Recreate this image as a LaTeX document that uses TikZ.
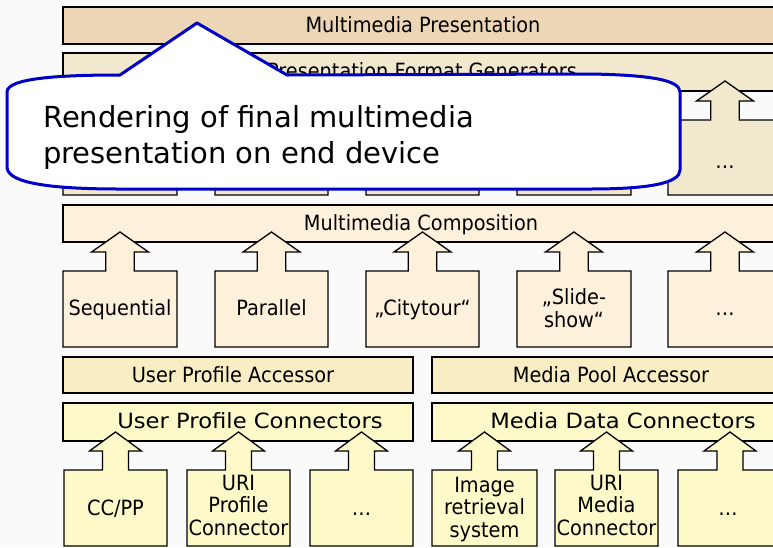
\documentclass[tikz,border=0pt]{standalone}
\usepackage{fontspec}
\setmainfont{DejaVu Sans}
\newfontfamily\tah[FakeStretch=0.92]{DejaVu Sans}
\newfontfamily\verd[FakeStretch=1.08]{DejaVu Sans}
\definecolor{bgc}{HTML}{FAFAFA}
\definecolor{cA}{HTML}{EDD6B6}
\definecolor{cB}{HTML}{F1E8CE}
\definecolor{cC}{HTML}{FDF1DB}
\definecolor{cD}{HTML}{F9EDC4}
\definecolor{cE}{HTML}{FEF9C8}
\definecolor{callblue}{HTML}{0000C8}
\newcommand{\upbox}[9]{%
  \pgfmathsetmacro\ucx{(#1+#2)/2}%
  \draw[layer, fill=#9] (#1,#6) -- (#1,#5) -- (\ucx-#7,#5) -- (\ucx-#7,#4) -- (\ucx-#8,#4) -- (\ucx,#3)
     -- (\ucx+#8,#4) -- (\ucx+#7,#4) -- (\ucx+#7,#5) -- (#2,#5) -- (#2,#6) -- cycle;}
\begin{document}
\begin{tikzpicture}[x=1pt,y=-1pt,
  layer/.style={draw=black, line width=1.3pt, line join=miter},
  lbl/.style={font={\tah\fontsize{21}{22.5}\selectfont}, inner sep=0pt, anchor=base, align=center},
  vlbl/.style={font={\verd\fontsize{21}{22.5}\selectfont}, inner sep=0pt, anchor=base},
  ctext/.style={font={\fontsize{29}{36}\selectfont}, inner sep=0pt, anchor=base west, align=left}]
\useasboundingbox (0,0) rectangle (773,547);
\clip (0,0) rectangle (773,547);
\fill[bgc] (0,0) rectangle (773,547);
% layer bars
\draw[layer, fill=cA] (63,7) rectangle (795,44);
\draw[layer, fill=cB] (63,53) rectangle (795,91);
\draw[layer, fill=cC] (63,205) rectangle (795,242);
\draw[layer, fill=cD] (63,357) rectangle (413,393);
\draw[layer, fill=cD] (432,357) rectangle (795,393);
\draw[layer, fill=cE] (63,403) rectangle (413,441);
\draw[layer, fill=cE] (432,403) rectangle (795,441);
% generator boxes
\foreach \a/\b in {63/177,215/328,366/479,517/631,668/782}
  {\upbox{\a}{\b}{81}{101}{120}{195}{14.25}{28.5}{cB}}
% composition boxes
\foreach \a/\b in {63/177,215/328,366/479,517/631,668/782}
  {\upbox{\a}{\b}{232}{252}{271}{347}{14.25}{28.5}{cC}}
% connector boxes
\foreach \a/\b in {64/167,187/290,310/413,432/537,555/658,678/782}
  {\upbox{\a}{\b}{432}{451}{470}{546}{13}{26}{cE}}
% labels (multi-line nodes: base = last line)
\node[lbl] (mp) at (423,32) {Multimedia Presentation};
\node[lbl] (pfg) at (422,78) {Presentation Format Generators};
\node[lbl] (g5) at (725,168) {…};
\node[lbl] (mc) at (421,230) {Multimedia Composition};
\node[lbl] (seq) at (120,315) {Sequential};
\node[lbl] (par) at (271.5,315) {Parallel};
\node[lbl] (city) at (422.5,315) {„Citytour“};
\node[lbl] (slide) at (574,327) {„Slide-\\show“};
\node[lbl] (c5) at (725,315) {…};
\node[lbl] (upa) at (233,382) {User Profile Accessor};
\node[lbl] (mpa) at (611,382) {Media Pool Accessor};
\node[vlbl] (upc) at (250,428) {User Profile Connectors};
\node[vlbl] (mdc) at (623,428) {Media Data Connectors};
\node[lbl] (ccpp) at (115.5,515) {CC/PP};
\node[lbl] (urip) at (238.5,535) {URI\\Profile\\Connector};
\node[lbl] (f3) at (361.5,515) {…};
\node[lbl] (img) at (484.5,537) {Image\\retrieval\\system};
\node[lbl] (urim) at (606.5,535) {URI\\Media\\Connector};
\node[lbl] (f6) at (728,515) {…};
% callout
\draw[callblue, line width=3pt, fill=white, line join=round]
  (120,75) -- (197,23) -- (287,75) -- (590,74)
  .. controls (650,75) and (680,80) .. (680,92) -- (680,170)
  .. controls (680,183) and (650,189) .. (590,189) -- (120,189)
  .. controls (50,189) and (7,183) .. (7,167) -- (7,92)
  .. controls (7,78) and (60,75) .. (120,75) -- cycle;
\node[ctext] (ct) at (43,163) {Rendering of final multimedia\\presentation on end device};
\end{tikzpicture}
\end{document}
